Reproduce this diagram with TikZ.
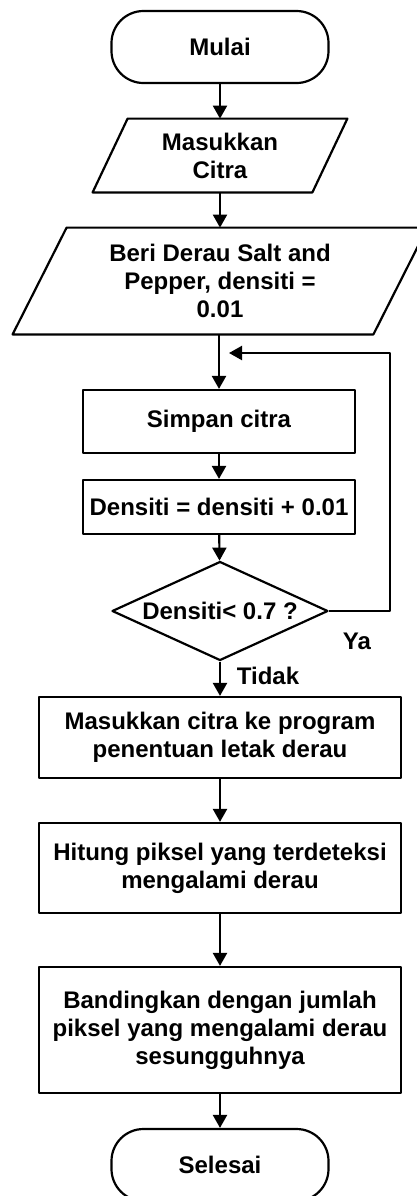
\documentclass[tikz,border=0pt]{standalone}
\usepackage{fontspec}
\setmainfont{Liberation Sans}
\usetikzlibrary{arrows.meta,shapes.geometric}

\begin{document}
\begin{tikzpicture}[
  x=0.5pt,
  y=-0.5pt,
  line join=round,
  font=\fontsize{12}{14}\selectfont\bfseries,
  every node/.style={align=center},
  terminal/.style={draw,line width=1.1pt,rectangle,rounded corners=16pt,
    minimum width=108.5pt,minimum height=36pt,inner sep=0pt},
  iobox/.style={rectangle,inner sep=0pt},
  outline/.style={draw,line width=1.1pt},
  process/.style={draw,line width=1.1pt,rectangle,inner sep=0pt},
  decision/.style={draw,line width=1.1pt,diamond,aspect=2.18,inner sep=0pt,
    minimum width=108pt,minimum height=49.5pt},
  flow/.style={line width=1.1pt,-{Triangle[length=6.5pt,width=7pt]}},
  tag/.style={inner sep=0pt}
]
  \useasboundingbox (0,0) rectangle (417,1196);
  \clip (0,0) rectangle (417,1196);

  % Start, input and noise steps.
  \node[terminal] (mulai) at (220,47) {Mulai};
  \node[iobox,minimum width=109.5pt,minimum height=36.5pt] (citra) at (220,155.5)
    {Masukkan\\Citra};
  \node[iobox,minimum width=180pt,minimum height=53pt] (beri) at (220,281)
    {Beri Derau Salt and\\Pepper, densiti =\\0.01};

  % Slanted input outlines.
  \draw[outline] ([xshift=-8.75pt]citra.south west) -- ([xshift=8.75pt]citra.north west)
    -- ([xshift=8.75pt]citra.north east) -- ([xshift=-8.75pt]citra.south east) -- cycle;
  \draw[outline] ([xshift=-13.5pt]beri.south west) -- ([xshift=13.5pt]beri.north west)
    -- ([xshift=13.5pt]beri.north east) -- ([xshift=-13.5pt]beri.south east) -- cycle;

  % Loop body.
  \node[process,minimum width=136pt,minimum height=31.5pt] (simpan) at (219,421.5)
    {Simpan citra};
  \node[process,minimum width=136pt,minimum height=27pt] (tambah) at (219,507)
    {Densiti = densiti + 0.01};
  \node[decision] (cek) at (220,611) {Densiti{<} 0.7 ?};

  % Evaluation steps.
  \node[process,minimum width=181pt,minimum height=40.5pt] (masuk) at (220,737.5)
    {Masukkan citra ke program\\penentuan letak derau};
  \node[process,minimum width=181pt,minimum height=45pt] (hitung) at (220,868)
    {Hitung piksel yang terdeteksi\\mengalami derau};
  \node[process,minimum width=181pt,minimum height=63pt] (banding) at (220,1030)
    {Bandingkan dengan jumlah\\piksel yang mengalami derau\\sesungguhnya};
  \node[terminal] (selesai) at (220,1165) {Selesai};

  % Branch labels.
  \node[tag] (ya) at (357,641) {Ya};
  \node[tag] (tidak) at (268,675.5) {Tidak};

  % Straight flow.
  \draw[flow] (mulai) -- (citra);
  \draw[flow] (citra) -- (beri);
  \draw[flow] (beri.south -| simpan.north) -- (simpan);
  \foreach \a/\b in {simpan/tambah,tambah/cek,cek/masuk,masuk/hitung,
                     hitung/banding,banding/selesai} {
    \draw[flow] (\a) -- (\b);
  }

  % Loop back while densiti is below the limit.
  \coordinate (loopx) at (390,353);
  \coordinate (back) at (229,353);
  \draw[flow] (cek.east) -| (loopx) -- (back);
\end{tikzpicture}
\end{document}
